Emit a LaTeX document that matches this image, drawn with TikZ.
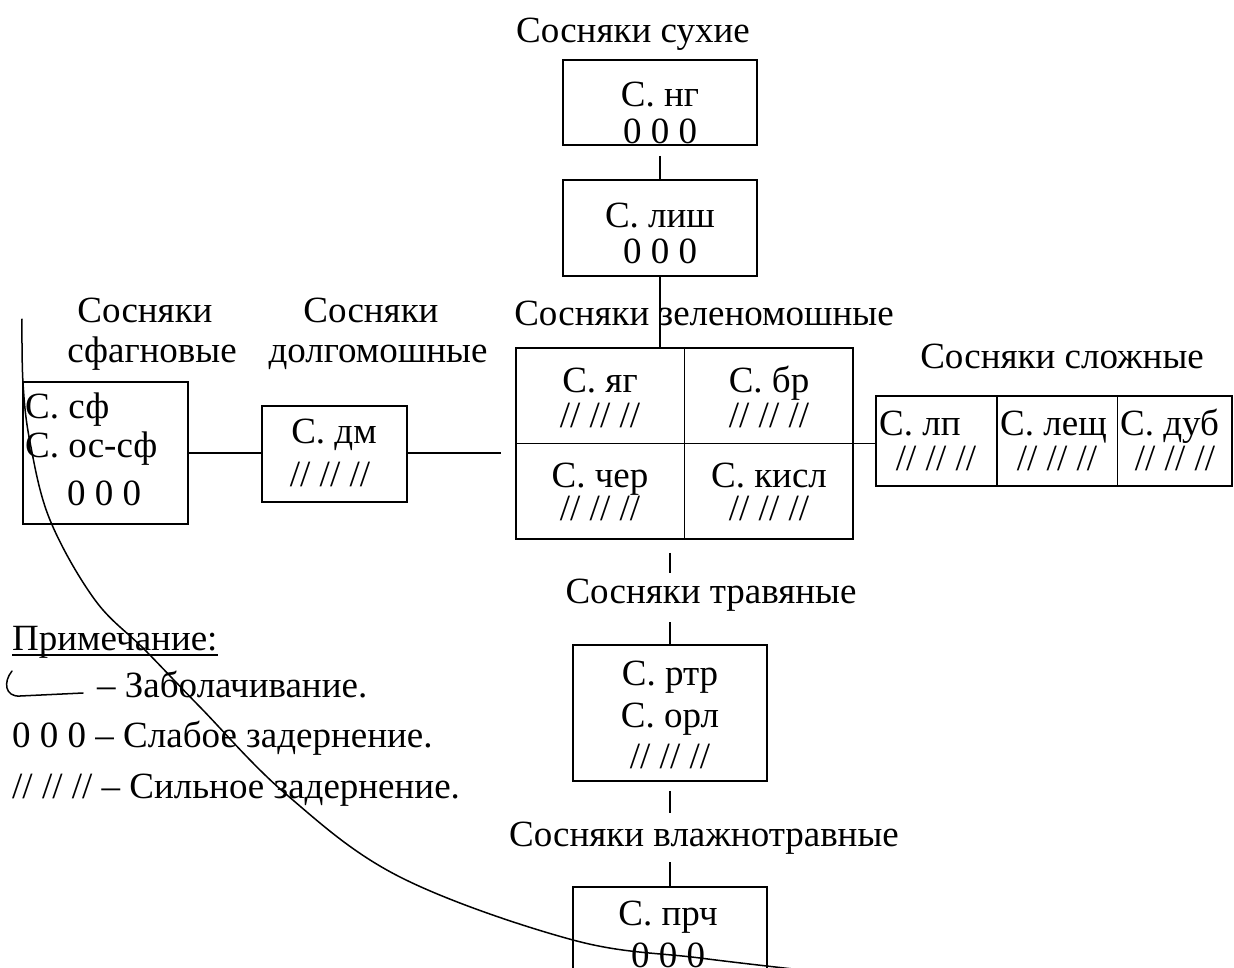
\documentclass[tikz,border=0pt]{standalone}
\usepackage{fontspec}
\setmainfont{Liberation Serif}
\usetikzlibrary{calc}
\begin{document}
\begin{tikzpicture}[x=1pt,y=-1pt,
  every node/.style={font=\fontsize{37}{41}\selectfont, inner sep=0pt},
  frame/.style={draw, line width=1.5pt, rectangle, inner sep=0pt},
  link/.style={draw, line width=1.5pt},
  txt/.style={anchor=base},
  ltxt/.style={anchor=base west},
  swamp/.style={draw, line width=1.5pt, line cap=round}]
\useasboundingbox (0,0) rectangle (1234,967);

% ---- boxes ----
\node[frame, minimum width=194pt, minimum height=85pt]  (ng)   at (660,102.5) {};
\node[frame, minimum width=194pt, minimum height=96pt]  (lish) at (660,228) {};
\node[frame, minimum width=337pt, minimum height=191pt] (grid) at (684.5,443.5) {};
\node[frame, minimum width=145pt, minimum height=96pt]  (dm)   at (334.5,454) {};
\node[frame, minimum width=165pt, minimum height=142pt] (sf)   at (105.5,453) {};
\node[frame, minimum width=356pt, minimum height=90pt]  (sloz) at (1054,441) {};
\node[frame, minimum width=194pt, minimum height=136pt] (rtr)  at (670,713) {};
\node[frame, minimum width=194pt, minimum height=123pt] (prch) at (670,948.5) {};

% cell dividers
\draw[link] (grid.north) -- (grid.south);
\draw[link] (grid.west) -- (grid.east);
\draw[link] ($(sloz.north west)!0.34!(sloz.north east)$) -- ($(sloz.south west)!0.34!(sloz.south east)$);
\draw[link] ($(sloz.north west)!0.677!(sloz.north east)$) -- ($(sloz.south west)!0.677!(sloz.south east)$);

% ---- headings ----
\node[txt] (hsux)  at (633,42)  {Сосняки сухие};
\node[txt] (hzel)  at (704,325) {Сосняки зеленомошные};
\node[txt] (hsf1)  at (145,322) {Сосняки};
\node[txt] (hsf2)  at (152,362) {сфагновые};
\node[txt] (hdm1)  at (371,322) {Сосняки};
\node[txt] (hdm2)  at (378,362) {долгомошные};
\node[txt] (hsl)   at (1062,368) {Сосняки сложные};
\node[txt] (htrav) at (711,603) {Сосняки травяные};
\node[txt] (hvl)   at (704,846) {Сосняки влажнотравные};

% ---- box texts ----
\node[txt] (ng1) at (660,106) {С. нг};
\node[txt] (ng2) at (660,143) {0 0 0};
\node[txt] (li1) at (660,227) {С. лиш};
\node[txt] (li2) at (660,263) {0 0 0};

\node[txt] (c11) at (600,392) {С. яг};
\node[txt] (c12) at (600,427) {// // //};
\node[txt] (c21) at (769,392) {С. бр};
\node[txt] (c22) at (769,427) {// // //};
\node[txt] (c31) at (600,487) {С. чер};
\node[txt] (c32) at (600,520) {// // //};
\node[txt] (c41) at (769,487) {С. кисл};
\node[txt] (c42) at (769,520) {// // //};

\node[txt] (dm1) at (334,443) {С. дм};
\node[txt] (dm2) at (330,486) {// // //};

\node[ltxt] (sf1) at (25,418) {С. сф};
\node[ltxt] (sf2) at (25,457) {С. ос-сф};
\node[txt]  (sf3) at (104,505) {0 0 0};

\node[ltxt] (sl1) at (879,435)  {С. лп};
\node[ltxt] (sl2) at (1000,435) {С. лещ};
\node[ltxt] (sl3) at (1120,435) {С. дуб};
\node[txt]  (sl4) at (936,470)  {// // //};
\node[txt]  (sl5) at (1057,470) {// // //};
\node[txt]  (sl6) at (1175,470) {// // //};

\node[txt] (rt1) at (670,685) {С. ртр};
\node[txt] (rt2) at (670,727) {С. орл};
\node[txt] (rt3) at (670,768) {// // //};

\node[txt] (pr1) at (668,925) {С. прч};
\node[txt] (pr2) at (668,967) {0 0 0};

% ---- connectors ----
\draw[link, shorten <=10pt] (ng.south) -- (lish.north);
\draw[link] (lish.south) -- (lish.south |- grid.north);
\draw[link] (sf.east) -- (sf.east -| dm.west);
\draw[link, shorten >=14pt] (sf.east -| dm.east) -- (sf.east -| grid.west);
\draw[link] (grid.east) -- (grid.east -| sloz.west);
\draw[link, shorten <=13pt, shorten >=5pt] (rtr.north |- grid.south) -- (rtr.north |- htrav.north);
\draw[link, shorten <=11pt] (rtr.north |- htrav.south) -- (rtr.north);
\draw[link, shorten <=9pt, shorten >=8pt] (rtr.south) -- (rtr.south |- hvl.north);
\draw[link, shorten <=8pt] (prch.north |- hvl.south) -- (prch.north);

% ---- swamping boundary ----
\draw[swamp] plot[smooth, tension=0.6] coordinates {(22,319) (23,383) (30,442) (50,520) (95,600) (145,650) (200,707) (287,795) (400,877) (573,940) (700,958) (820,972)};

% ---- legend ----
\node[ltxt] (note) at (12,650) {Примечание:};
\draw[line width=1.5pt] ([yshift=-5pt]note.base west) -- ([yshift=-5pt]note.base east);
\draw[swamp] (12,671) .. controls (3,682) and (5,697) .. (20,696) -- (83,693);
\node[ltxt] (lg1) at (97,697) {– Заболачивание.};
\node[ltxt] (lg2) at (12,747) {0 0 0 – Слабое задернение.};
\node[ltxt] (lg3) at (12,798) {// // // – Сильное задернение.};
\end{tikzpicture}
\end{document}
